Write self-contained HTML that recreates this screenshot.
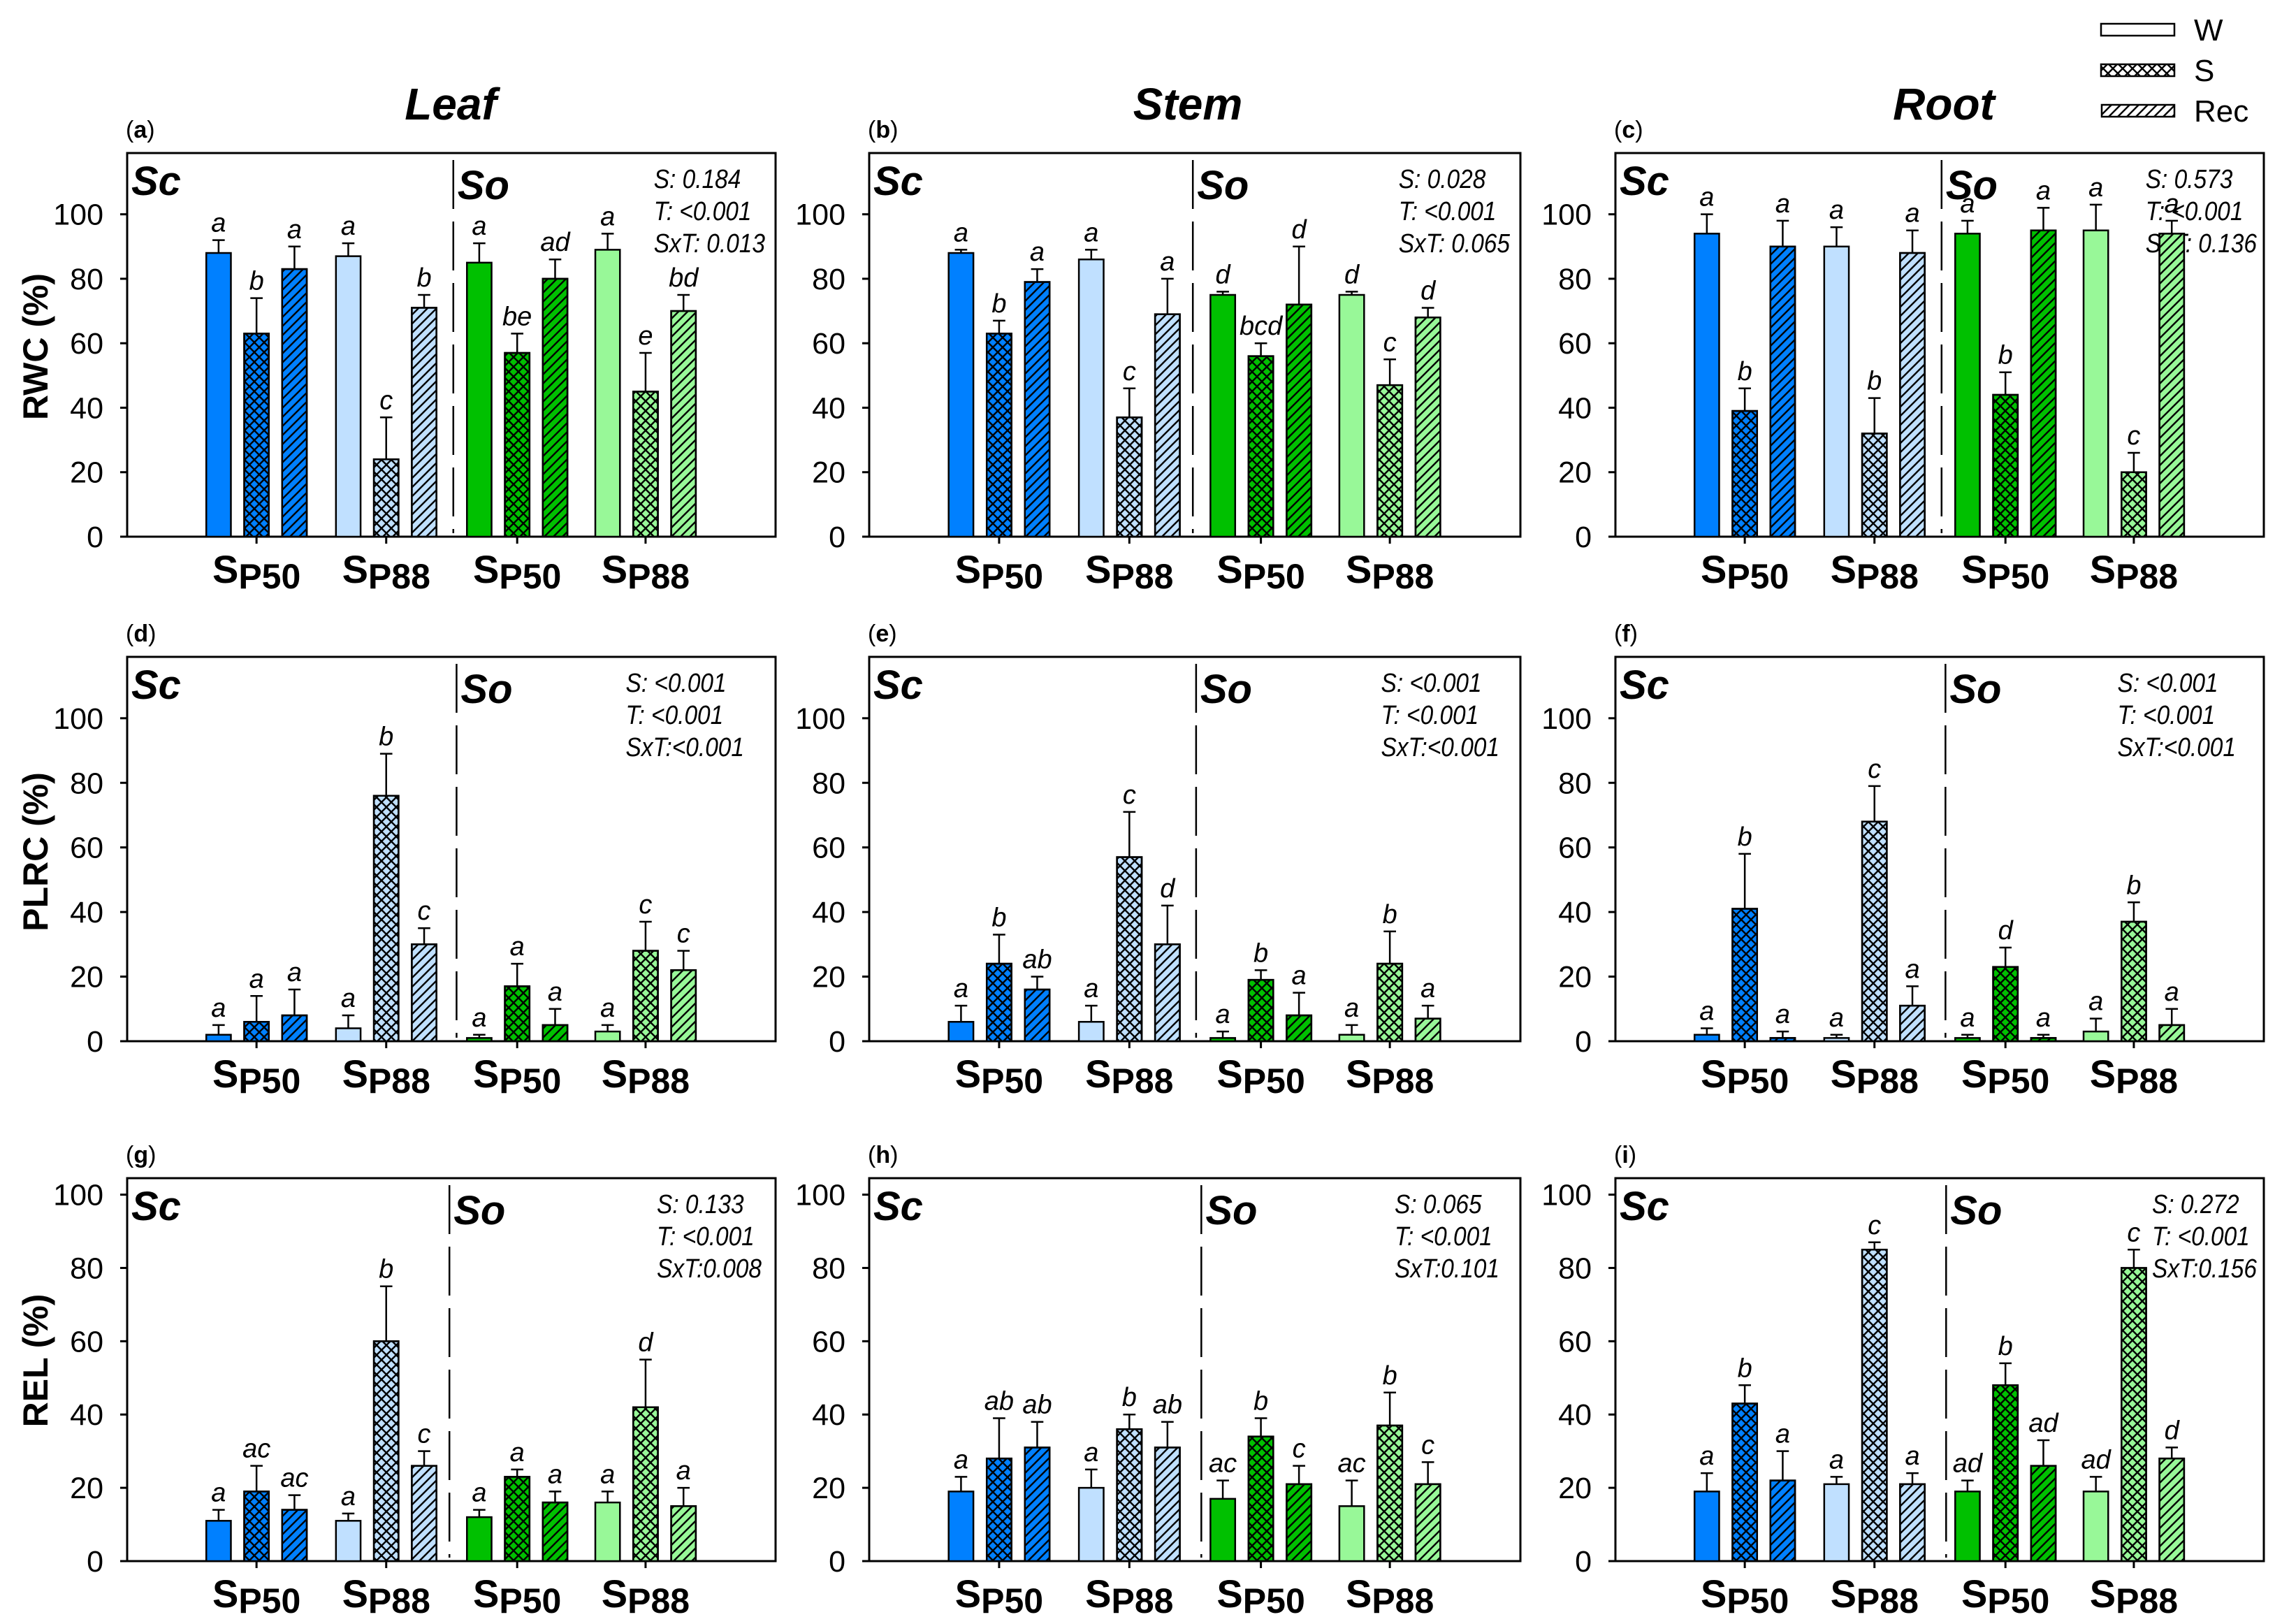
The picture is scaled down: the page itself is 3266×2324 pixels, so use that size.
<!DOCTYPE html>
<html><head><meta charset="utf-8">
<style>
html,body{margin:0;padding:0;background:#fff;}
svg{display:block;font-family:"Liberation Sans",Arial,sans-serif;}
</style></head>
<body>
<svg id="fig" width="3266" height="2324" viewBox="0 0 3266 2324" xmlns="http://www.w3.org/2000/svg">
<defs>
  <pattern id="cross" patternUnits="userSpaceOnUse" width="14" height="14">
    <path d="M0,0 L14,14 M14,0 L0,14" stroke="#000" stroke-width="2.4" fill="none"/>
  </pattern>
  <pattern id="diag" patternUnits="userSpaceOnUse" width="13" height="13">
    <path d="M-3,16 L16,-3 M-3,3 L3,-3 M10,16 L16,10" stroke="#000" stroke-width="2.4" fill="none"/>
  </pattern>
</defs>
<g id="legend">
  <rect x="3007" y="34" width="105" height="17" fill="#fff" stroke="#000" stroke-width="2.5"/>
  <text x="3140" y="58" font-size="44">W</text>
  <rect x="3007" y="92" width="105" height="17" fill="url(#cross)" stroke="#000" stroke-width="2.5"/>
  <text x="3140" y="116" font-size="44">S</text>
  <rect x="3008" y="150" width="104" height="17" fill="url(#diag)" stroke="#000" stroke-width="2.5"/>
  <text x="3140" y="174" font-size="44">Rec</text>
</g>
<text x="645" y="171" font-size="64" font-weight="bold" font-style="italic" text-anchor="middle">Leaf</text>
<text x="1700" y="171" font-size="64" font-weight="bold" font-style="italic" text-anchor="middle">Stem</text>
<text x="2782" y="171" font-size="64" font-weight="bold" font-style="italic" text-anchor="middle">Root</text>
<text transform="translate(68,496) rotate(-90)" font-size="50" font-weight="bold" text-anchor="middle">RWC (%)</text>
<text transform="translate(68,1219) rotate(-90)" font-size="50" font-weight="bold" text-anchor="middle">PLRC (%)</text>
<text transform="translate(68,1947) rotate(-90)" font-size="50" font-weight="bold" text-anchor="middle">REL (%)</text>
</svg>
<script>
// Bar order per panel: Sc-P50 (W,S,Rec), Sc-P88 (W,S,Rec), So-P50 (W,S,Rec), So-P88 (W,S,Rec)
const categories = ["SP50","SP88","SP50","SP88"];
const treatments = ["W","S","Rec"];
const yTicks = [0,20,40,60,80,100];
const panelIds = ["a","b","c","d","e","f","g","h","i"];
const valsA = [88,63,83, 87,24,71, 85,57,80, 89,45,70];
const errA  = [4,11,7, 4,13,4, 6,6,6, 5,12,5];
const letA  = ["a","b","a","a","c","b","a","be","ad","a","e","bd"];
const valsB = [88,63,79, 86,37,69, 75,56,72, 75,47,68];
const errB  = [1,4,4, 3,9,11, 1,4,18, 1,8,3];
const letB  = ["a","b","a","a","c","a","d","bcd","d","d","c","d"];
const valsC = [94,39,90, 90,32,88, 94,44,95, 95,20,94];
const errC  = [6,7,8, 6,11,7, 4,7,7, 8,6,4];
const letC  = ["a","b","a","a","b","a","a","b","a","a","c","a"];
const valsD = [2,6,8, 4,76,30, 1,17,5, 3,28,22];
const errD  = [3,8,8, 4,13,5, 1,7,5, 2,9,6];
const letD  = ["a","a","a","a","b","c","a","a","a","a","c","c"];
const valsE = [6,24,16, 6,57,30, 1,19,8, 2,24,7];
const errE  = [5,9,4, 5,14,12, 2,3,7, 3,10,4];
const letE  = ["a","b","ab","a","c","d","a","b","a","a","b","a"];
const valsF = [2,41,1, 1,68,11, 1,23,1, 3,37,5];
const errF  = [2,17,2, 1,11,6, 1,6,1, 4,6,5];
const letF  = ["a","b","a","a","c","a","a","d","a","a","b","a"];
const valsG = [11,19,14, 11,60,26, 12,23,16, 16,42,15];
const errG  = [3,7,4, 2,15,4, 2,2,3, 3,13,5];
const letG  = ["a","ac","ac","a","b","c","a","a","a","a","d","a"];
const valsH = [19,28,31, 20,36,31, 17,34,21, 15,37,21];
const errH  = [4,11,7, 5,4,7, 5,5,5, 7,9,6];
const letH  = ["a","ab","ab","a","b","ab","ac","b","c","ac","b","c"];
const valsI = [19,43,22, 21,85,21, 19,48,26, 19,80,28];
const errI  = [5,5,8, 2,2,3, 3,6,7, 4,5,3];
const letI  = ["a","b","a","a","c","a","ad","b","ad","ad","c","d"];
const statsA = ["S: 0.184","T: <0.001","SxT: 0.013"];
const statsB = ["S: 0.028","T: <0.001","SxT: 0.065"];
const statsC = ["S: 0.573","T: <0.001","SxT: 0.136"];
const statsD = ["S: <0.001","T: <0.001","SxT:<0.001"];
const statsE = ["S: <0.001","T: <0.001","SxT:<0.001"];
const statsF = ["S: <0.001","T: <0.001","SxT:<0.001"];
const statsG = ["S: 0.133","T: <0.001","SxT:0.008"];
const statsH = ["S: 0.065","T: <0.001","SxT:0.101"];
const statsI = ["S: 0.272","T: <0.001","SxT:0.156"];

const NS="http://www.w3.org/2000/svg";
const svg=document.getElementById('fig');
function el(tag,attrs,parent){const e=document.createElementNS(NS,tag);for(const k in attrs)e.setAttribute(k,attrs[k]);(parent||svg).appendChild(e);return e;}

const cols=[{l:182,r:1110},{l:1244,r:2176},{l:2312,r:3240}];
const rows=[{t:219,b:768,ymax:119},{t:940,b:1490,ymax:119},{t:1686,b:2234,ymax:104.5}];
const colors=["#0080ff","#c0e0ff","#00c000","#98f898"];
const dividers=[0.503,0.497,0.503, 0.508,0.502,0.509, 0.497,0.51,0.51];
const statRight=[15,15,10, 45,30,40, 20,30,10];
const allVals=[valsA,valsB,valsC,valsD,valsE,valsF,valsG,valsH,valsI];
const allErr=[errA,errB,errC,errD,errE,errF,errG,errH,errI];
const allLet=[letA,letB,letC,letD,letE,letF,letG,letH,letI];
const allStats=[statsA,statsB,statsC,statsD,statsE,statsF,statsG,statsH,statsI];
const groupStart=[0.122,0.322,0.524,0.722];
const step=0.0585, bw=0.038;

for(let p=0;p<9;p++){
  const c=cols[p%3], r=rows[Math.floor(p/3)];
  const W=c.r-c.l;
  const g=el('g',{});
  
  
  const y=v=>r.b-(v/r.ymax)*(r.b-r.t);
  const pl=el('text',{x:c.l-2,y:r.t-22,'font-size':34},g);
  pl.innerHTML='(<tspan font-weight="bold">'+panelIds[p]+'</tspan>)';
  
  
  const fr=el('rect',{x:c.l,y:r.t,width:W,height:r.b-r.t,fill:'none',stroke:'#000','stroke-width':3},g);
  
  
  const ax=el('line',{x1:c.l-10,y1:r.b,x2:c.r,y2:r.b,stroke:'#000','stroke-width':3},g);
  
  
  for(const t of yTicks){
    const ty=y(t);
    const tl=el('line',{x1:c.l-10,y1:ty,x2:c.l,y2:ty,stroke:'#000','stroke-width':3},g);
    
    
    const tx=el('text',{x:c.l-34,y:ty+15,'font-size':43,'text-anchor':'end'},g);
    tx.textContent=t;
    
    
  }
  const dx=c.l+dividers[p]*W;
  const dv=el('line',{x1:dx,y1:r.t+10,x2:dx,y2:r.b-5,stroke:'#000','stroke-width':2.5,'stroke-dasharray':'70,18'},g);
  
  
  const sc=el('text',{x:c.l+6,y:r.t+60,'font-size':58,'font-weight':'bold','font-style':'italic'},g);
  sc.textContent='Sc';
  
  
  const so=el('text',{x:dx+6,y:r.t+66,'font-size':58,'font-weight':'bold','font-style':'italic'},g);
  so.textContent='So';
  
  
  // stats (compressed like reference narrow font)
  const sts=[];
  allStats[p].forEach((s,i)=>{
    const st=el('text',{x:0,y:r.t+50+i*46,'font-size':38,'font-style':'italic'},g);
    st.textContent=s;
    
    
    sts.push(st);
  });
  let maxW=0;
  sts.forEach(st=>{const w=st.getComputedTextLength()*0.88;st.setAttribute('textLength',w);st.setAttribute('lengthAdjust','spacingAndGlyphs');maxW=Math.max(maxW,w);});
  sts.forEach(st=>st.setAttribute('x',c.r-statRight[p]-maxW));
  const vals=allVals[p], errs=allErr[p], lets=allLet[p];
  for(let gi=0;gi<4;gi++){
    for(let ti=0;ti<3;ti++){
      const k=gi*3+ti;
      const x0=c.l+(groupStart[gi]+ti*step)*W;
      const bwp=bw*W;
      const yt=y(vals[k]);
      const b=el('rect',{x:x0,y:yt,width:bwp,height:r.b-yt,fill:colors[gi],stroke:'#000','stroke-width':2.5},g);
      
      
      if(ti>0){
        const h=el('rect',{x:x0,y:yt,width:bwp,height:r.b-yt,fill:ti===1?'url(#cross)':'url(#diag)',stroke:'#000','stroke-width':2.5},g);
        
        
      }
      const cx=x0+bwp/2, ye=y(vals[k]+errs[k]);
      const eb=el('path',{d:`M${cx},${yt} L${cx},${ye} M${cx-bwp/4},${ye} L${cx+bwp/4},${ye}`,stroke:'#000','stroke-width':2.5,fill:'none'},g);
      
      
      const lt=el('text',{x:cx,y:ye-12,'font-size':38,'font-style':'italic','text-anchor':'middle'},g);
      lt.textContent=lets[k];
      
      
    }
    const mx=c.l+(groupStart[gi]+step)*W+bw*W/2;
    const ct=el('line',{x1:mx,y1:r.b,x2:mx,y2:r.b+10,stroke:'#000','stroke-width':3},g);
    
    
    const cl=el('text',{x:mx,y:r.b+66,'font-size':56,'font-weight':'bold','text-anchor':'middle'},g);
    cl.innerHTML='S<tspan font-size="50" dy="8">'+categories[gi].slice(1)+'</tspan>';
    
    
  }
}
</script>
</body></html>
